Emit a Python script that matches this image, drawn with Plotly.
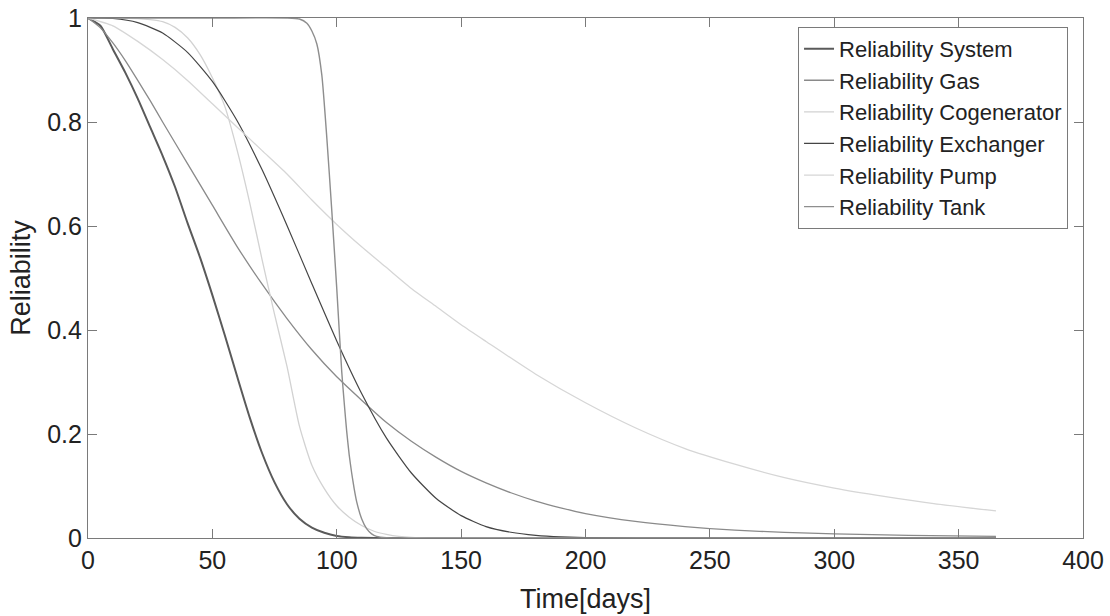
import plotly.graph_objects as go

# ---- data ----
days_system = [0, 5, 10, 15, 20, 25, 30, 35, 40, 45, 50, 55, 60, 65, 70, 75, 80, 85, 90, 95, 100, 105, 110, 120, 150, 200, 250, 300, 365]
rel_system = [1, 0.985, 0.94, 0.895, 0.845, 0.79, 0.735, 0.675, 0.606, 0.54, 0.467, 0.39, 0.31, 0.232, 0.163, 0.107, 0.065, 0.037, 0.02, 0.01, 0.004, 0.0015, 0.0005, 0, 0, 0, 0, 0, 0]

days_gas = [0, 5, 10, 15, 20, 25, 30, 40, 50, 60, 70, 80, 90, 100, 110, 120, 130, 140, 150, 160, 170, 180, 190, 200, 220, 240, 260, 280, 300, 330, 365]
rel_gas = [1, 0.981, 0.952, 0.918, 0.88, 0.841, 0.80, 0.72, 0.64, 0.56, 0.488, 0.422, 0.362, 0.31, 0.265, 0.222, 0.186, 0.155, 0.128, 0.106, 0.087, 0.071, 0.058, 0.047, 0.032, 0.022, 0.015, 0.011, 0.008, 0.005, 0.003]

days_cogen = [0, 10, 20, 25, 30, 35, 40, 45, 50, 55, 60, 65, 70, 75, 80, 85, 90, 95, 100, 105, 110, 115, 120, 125, 130, 140, 365]
rel_cogen = [1, 1, 0.999, 0.997, 0.993, 0.982, 0.962, 0.93, 0.885, 0.83, 0.745, 0.645, 0.535, 0.43, 0.33, 0.215, 0.14, 0.095, 0.062, 0.04, 0.024, 0.013, 0.007, 0.003, 0.001, 0, 0]

days_exch = [0, 10, 20, 30, 40, 50, 60, 70, 80, 90, 100, 110, 120, 130, 140, 150, 160, 170, 180, 190, 200, 220, 365]
rel_exch = [1, 0.999, 0.991, 0.971, 0.934, 0.878, 0.802, 0.708, 0.601, 0.489, 0.379, 0.278, 0.192, 0.125, 0.076, 0.043, 0.022, 0.011, 0.005, 0.002, 0.001, 0, 0]

days_pump = [0, 10, 20, 30, 40, 50, 60, 70, 80, 90, 100, 110, 120, 130, 140, 150, 160, 180, 200, 220, 240, 260, 280, 300, 320, 340, 365]
rel_pump = [1, 0.985, 0.955, 0.92, 0.88, 0.835, 0.79, 0.745, 0.70, 0.65, 0.603, 0.56, 0.52, 0.48, 0.445, 0.41, 0.378, 0.315, 0.26, 0.212, 0.172, 0.142, 0.116, 0.096, 0.08, 0.066, 0.052]

days_tank = [0, 50, 80, 85, 88, 90, 92, 94, 96, 98, 100, 102, 103, 104, 105, 106, 107, 108, 110, 112, 114, 116, 120, 130, 365]
rel_tank = [1, 1, 1, 0.998, 0.99, 0.975, 0.95, 0.89, 0.77, 0.63, 0.48, 0.32, 0.26, 0.205, 0.16, 0.125, 0.095, 0.07, 0.037, 0.018, 0.008, 0.003, 0.0005, 0, 0]

x_ticks = [0, 50, 100, 150, 200, 250, 300, 350, 400]
y_ticks = [0, 0.2, 0.4, 0.6, 0.8, 1]
y_tick_labels = ["0", "0.2", "0.4", "0.6", "0.8", "1"]

series = [
    ("Reliability System", days_system, rel_system, "#5a5a5a", 2.0),
    ("Reliability Gas", days_gas, rel_gas, "#8a8a8a", 1.3),
    ("Reliability Cogenerator", days_cogen, rel_cogen, "#d2d2d2", 1.3),
    ("Reliability Exchanger", days_exch, rel_exch, "#454545", 1.2),
    ("Reliability Pump", days_pump, rel_pump, "#d6d6d6", 1.3),
    ("Reliability Tank", days_tank, rel_tank, "#8e8e8e", 1.4),
]

FONT = "Liberation Sans, Arial, Helvetica, sans-serif"

fig = go.Figure()
for name, xs, ys, color, w in series:
    fig.add_trace(go.Scatter(x=xs, y=ys, mode="lines", name=name,
                             line=dict(color=color, width=w, shape="spline", smoothing=0.6)))

axis_common = dict(
    showline=True, linecolor="#7a7a7a", linewidth=1.2, mirror="ticks",
    ticks="inside", ticklen=9, tickcolor="#7a7a7a", tickwidth=1,
    showgrid=False, zeroline=False, automargin=False,
    ticklabeloverflow="allow",
    tickfont=dict(family=FONT, size=25, color="#222222"),
)

fig.update_layout(
    width=1110, height=616,
    margin=dict(l=88, r=27, t=18, b=78),
    paper_bgcolor="white", plot_bgcolor="white",
    font=dict(family=FONT, color="#222222"),
    xaxis=dict(range=[0, 400], tickvals=x_ticks,
               title=dict(text="Time[days]", font=dict(family=FONT, size=27, color="#222222"), standoff=16),
               **axis_common),
    yaxis=dict(range=[0, 1], tickvals=y_ticks, ticktext=y_tick_labels,
               title=dict(text="Reliability", font=dict(family=FONT, size=27, color="#222222"), standoff=8),
               **axis_common),
    legend=dict(x=0.7136, y=0.983, xanchor="left", yanchor="top",
                bgcolor="white", bordercolor="#7a7a7a", borderwidth=1,
                font=dict(family=FONT, size=22, color="#222222"),
                itemwidth=30, tracegroupgap=0),
    showlegend=True,
)

# remove the default 8px page margin so the figure sits at the window's corner
fig.write_html("out.html", config={"displayModeBar": False},
               post_script="document.body.style.margin='0';")
